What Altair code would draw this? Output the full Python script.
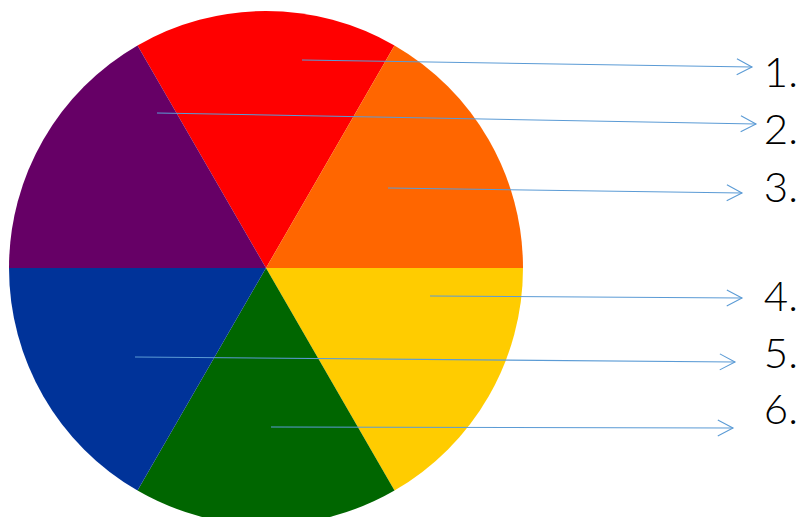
import math
import altair as alt
import pandas as pd

# Pie slices (clockwise from top)
slice_names = ["red", "orange", "yellow", "green", "blue", "purple"]
slice_values = [1, 1, 1, 1, 1, 1]
slice_colors = ["#FF0000", "#FF6600", "#FFCC00", "#006600", "#003399", "#660066"]

# Annotation arrows (image pixel coordinates)
arrow_x0 = [302, 157, 388, 430, 135, 271]
arrow_y0 = [60, 113, 188, 296, 357, 427]
arrow_x1 = [752, 756, 742, 742, 735, 733]
arrow_y1 = [67, 124, 193, 298, 362, 428]

# Labels
label_text = ["1.", "2.", "3.", "4.", "5.", "6."]
label_x = [798, 798, 798, 798, 798, 798]
label_y = [74, 131, 189, 298, 355, 411]

W, H = 791, 509
OFF = 8

pie_df = pd.DataFrame({"name": slice_names, "value": slice_values,
                       "idx": list(range(len(slice_names)))})
arrow_df = pd.DataFrame({"x0": arrow_x0, "y0": arrow_y0, "x1": arrow_x1, "y1": arrow_y1})
label_df = pd.DataFrame({"t": label_text, "x": label_x, "y": label_y})

xs = alt.Scale(domain=[OFF, OFF + W], range=[0, W], nice=False, zero=False)
ys = alt.Scale(domain=[OFF, OFF + H], range=[0, H], nice=False, zero=False)

pie = alt.Chart(pie_df).mark_arc(outerRadius=257).encode(
    theta=alt.Theta("value:Q", stack=True,
                    scale=alt.Scale(range=[-math.pi / 6, 2 * math.pi - math.pi / 6])),
    color=alt.Color("name:N", scale=alt.Scale(domain=slice_names, range=slice_colors), legend=None),
    order=alt.Order("idx:Q"),
    x=alt.value(266 - OFF),
    y=alt.value(268 - OFF),
)

lines = alt.Chart(arrow_df).mark_rule(color="#5B9BD5", strokeWidth=1.1).encode(
    x=alt.X("x0:Q", scale=xs, axis=None),
    y=alt.Y("y0:Q", scale=ys, axis=None),
    x2="x1:Q",
    y2="y1:Q",
)

heads = alt.Chart(arrow_df).transform_calculate(
    ang="atan2(datum.y1 - datum.y0, datum.x1 - datum.x0) * 180 / PI"
).mark_point(
    shape="M-1.9,-1 L0,0 L-1.9,1", filled=False, color="#5B9BD5", strokeWidth=1.1, size=256, opacity=1
).encode(
    x=alt.X("x1:Q", scale=xs, axis=None),
    y=alt.Y("y1:Q", scale=ys, axis=None),
    angle=alt.Angle("ang:Q", scale=None),
)

labels = alt.Chart(label_df).mark_text(
    align="right", baseline="middle", fontSize=42, font="Lato", fontWeight=300, color="#000000"
).encode(
    x=alt.X("x:Q", scale=xs, axis=None),
    y=alt.Y("y:Q", scale=ys, axis=None),
    text="t:N",
)

chart = alt.layer(pie, lines, heads, labels).properties(
    width=W, height=H, autosize=alt.AutoSizeParams(type="none"), padding=0
).configure_view(stroke=None)

chart.save("out.html", embed_options={"renderer": "svg", "actions": False})
